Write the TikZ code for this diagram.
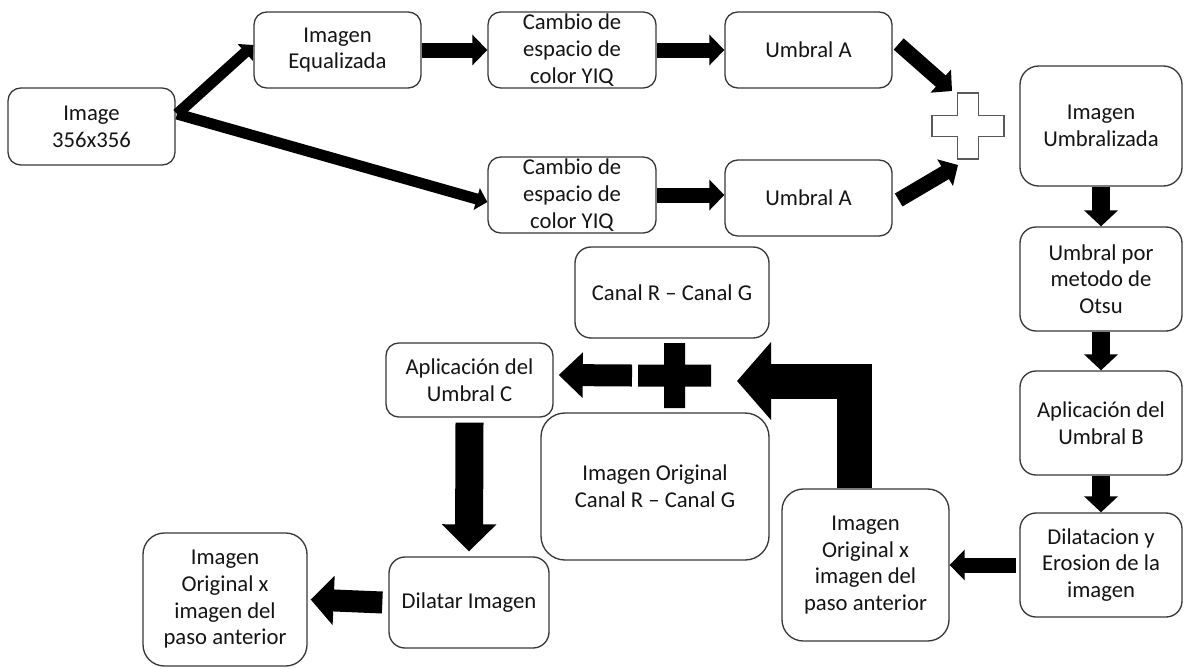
\documentclass[tikz,border=0pt]{standalone}
\usepackage{fontspec}
\setmainfont{Carlito}
\usetikzlibrary{arrows.meta,calc}
\begin{document}
\begin{tikzpicture}[x=0.75pt,y=-0.75pt,
  box/.style={draw=black!78, line width=1pt, rounded corners=9.5pt, align=center,
    inner sep=0pt, font=\fontsize{17pt}{20pt}\selectfont, text=black!92},
  thinarr/.style={line width=8.25pt, -{Triangle[length=8.25pt,width=16.5pt]}},
  arr/.style={line width=11.25pt, -{Triangle[length=11.25pt,width=22.5pt]}},
  varr/.style={line width=13.5pt, -{Triangle[length=12pt,width=24.75pt]}},
  midarr/.style={line width=16.5pt, -{Triangle[length=18pt,width=33pt]}},
  leftarr/.style={line width=16.5pt, -{Triangle[length=17.25pt,width=36pt]}},
  downarr/.style={line width=21pt, -{Triangle[length=20.25pt,width=39.75pt]}},
  bigarr/.style={line width=26.25pt, -{Triangle[length=25.5pt,width=57pt]}},
]
\useasboundingbox (0,0) rectangle (1184,668);

% upper branch
\node[box, minimum width=125.25pt, minimum height=57.75pt] (img) at (91.5,126.5) {Image\\356x356};
\node[box, minimum width=125.25pt, minimum height=57pt] (equ) at (337.5,50) {Imagen\\Equalizada};
\node[box, minimum width=126pt, minimum height=57pt] (yiq1) at (572,50) {Cambio de\\espacio de\\color YIQ};
\node[box, minimum width=125.25pt, minimum height=57pt] (ua1) at (808.5,50) {Umbral A};
% lower branch
\node[box, minimum width=126pt, minimum height=57pt] (yiq2) at (572,195) {Cambio de\\espacio de\\color YIQ};
\node[box, minimum width=125.25pt, minimum height=57pt] (ua2) at (808.5,198) {Umbral A};

% right column
\node[box, rounded corners=14pt, minimum width=121.5pt, minimum height=90pt] (umb) at (1101,126) {Imagen\\Umbralizada};
\node[box, rounded corners=12pt, minimum width=121.5pt, minimum height=78pt] (otsu) at (1101,279) {Umbral por\\metodo de\\Otsu};
\node[box, rounded corners=12pt, minimum width=121.5pt, minimum height=78pt] (apB) at (1101,423) {Aplicación del\\Umbral B};
\node[box, rounded corners=12pt, minimum width=121.5pt, minimum height=78pt] (dil) at (1101,565) {Dilatacion y\\Erosion de la\\imagen};
\node[box, rounded corners=16pt, minimum width=125.25pt, minimum height=114pt] (orig1) at (865.5,565) {Imagen\\Original x\\imagen del\\paso anterior};

% middle block
\node[box, rounded corners=12pt, minimum width=145.5pt, minimum height=68.25pt] (rg) at (672,292.5) {Canal R – Canal G};
\node[box, minimum width=125.25pt, minimum height=55.5pt] (apC) at (469.5,380) {Aplicación del\\Umbral C};
\node[box, rounded corners=18pt, minimum width=171pt, minimum height=110.25pt] (origrg) at (655,486.5) {Imagen Original\\Canal R – Canal G};
\node[box, rounded corners=12pt, minimum width=120pt, minimum height=68.25pt] (dilimg) at (469,602.5) {Dilatar Imagen};
\node[box, rounded corners=16pt, minimum width=123pt, minimum height=99.75pt] (orig2) at (225,599.5) {Imagen\\Original x\\imagen del\\paso anterior};

% sum symbols
\coordinate (sum1) at (968,126);
\coordinate (sum2) at (674.5,375.5);
\draw[black!65, line width=1pt, shift={(sum1)}]
  (-10.5,-33) -- (10.5,-33) -- (10.5,-10.5) -- (36,-10.5) -- (36,10.5) -- (10.5,10.5)
  -- (10.5,33) -- (-10.5,33) -- (-10.5,10.5) -- (-36,10.5) -- (-36,-10.5) -- (-10.5,-10.5) -- cycle;
\fill[black, shift={(sum2)}]
  (-10.5,-32.5) -- (10.5,-32.5) -- (10.5,-11) -- (36.5,-11) -- (36.5,11) -- (10.5,11)
  -- (10.5,32.5) -- (-10.5,32.5) -- (-10.5,11) -- (-36.5,11) -- (-36.5,-11) -- (-10.5,-11) -- cycle;

% connectors
\coordinate (split) at (177,114);
\draw[thinarr] (split) -- ($(equ.west)+(0,-5)$);
\draw[thinarr] (split) -- ($(yiq2.west)+(0,7)$);
\draw[arr] (equ.east) -- (yiq1.west);
\draw[arr] (yiq1.east) -- (ua1.west);
\draw[arr] (yiq2.east) -- (yiq2.east -| ua2.west);
\draw[arr] ($(ua1.east)+(6,-6)$) -- ($(sum1)+(-16,-35)$);
\draw[arr] ($(ua2.east)+(6,2)$) -- ($(sum1)+(-10,39)$);
\draw[varr] (umb.south) -- (otsu.north);
\draw[varr] (otsu.south) -- (apB.north);
\draw[varr] (apB.south) -- (dil.north);
\draw[arr] ($(dil.west)+(-3,0)$) -- (orig1.east);
\draw[bigarr] ($(orig1.north)+(-11,0)$) |- ($(sum2)+(62.5,5.5)$);
\draw[midarr] ($(sum2)+(-42.5,0)$) -- ($(apC.east)+(5,-5)$);
\draw[downarr] ($(apC.south)+(0,5)$) -- ($(dilimg.north)+(0,-5)$);
\draw[leftarr] ($(dilimg.west)+(-6,0)$) -- ($(orig2.east)+(3,0)$);
\end{tikzpicture}
\end{document}
